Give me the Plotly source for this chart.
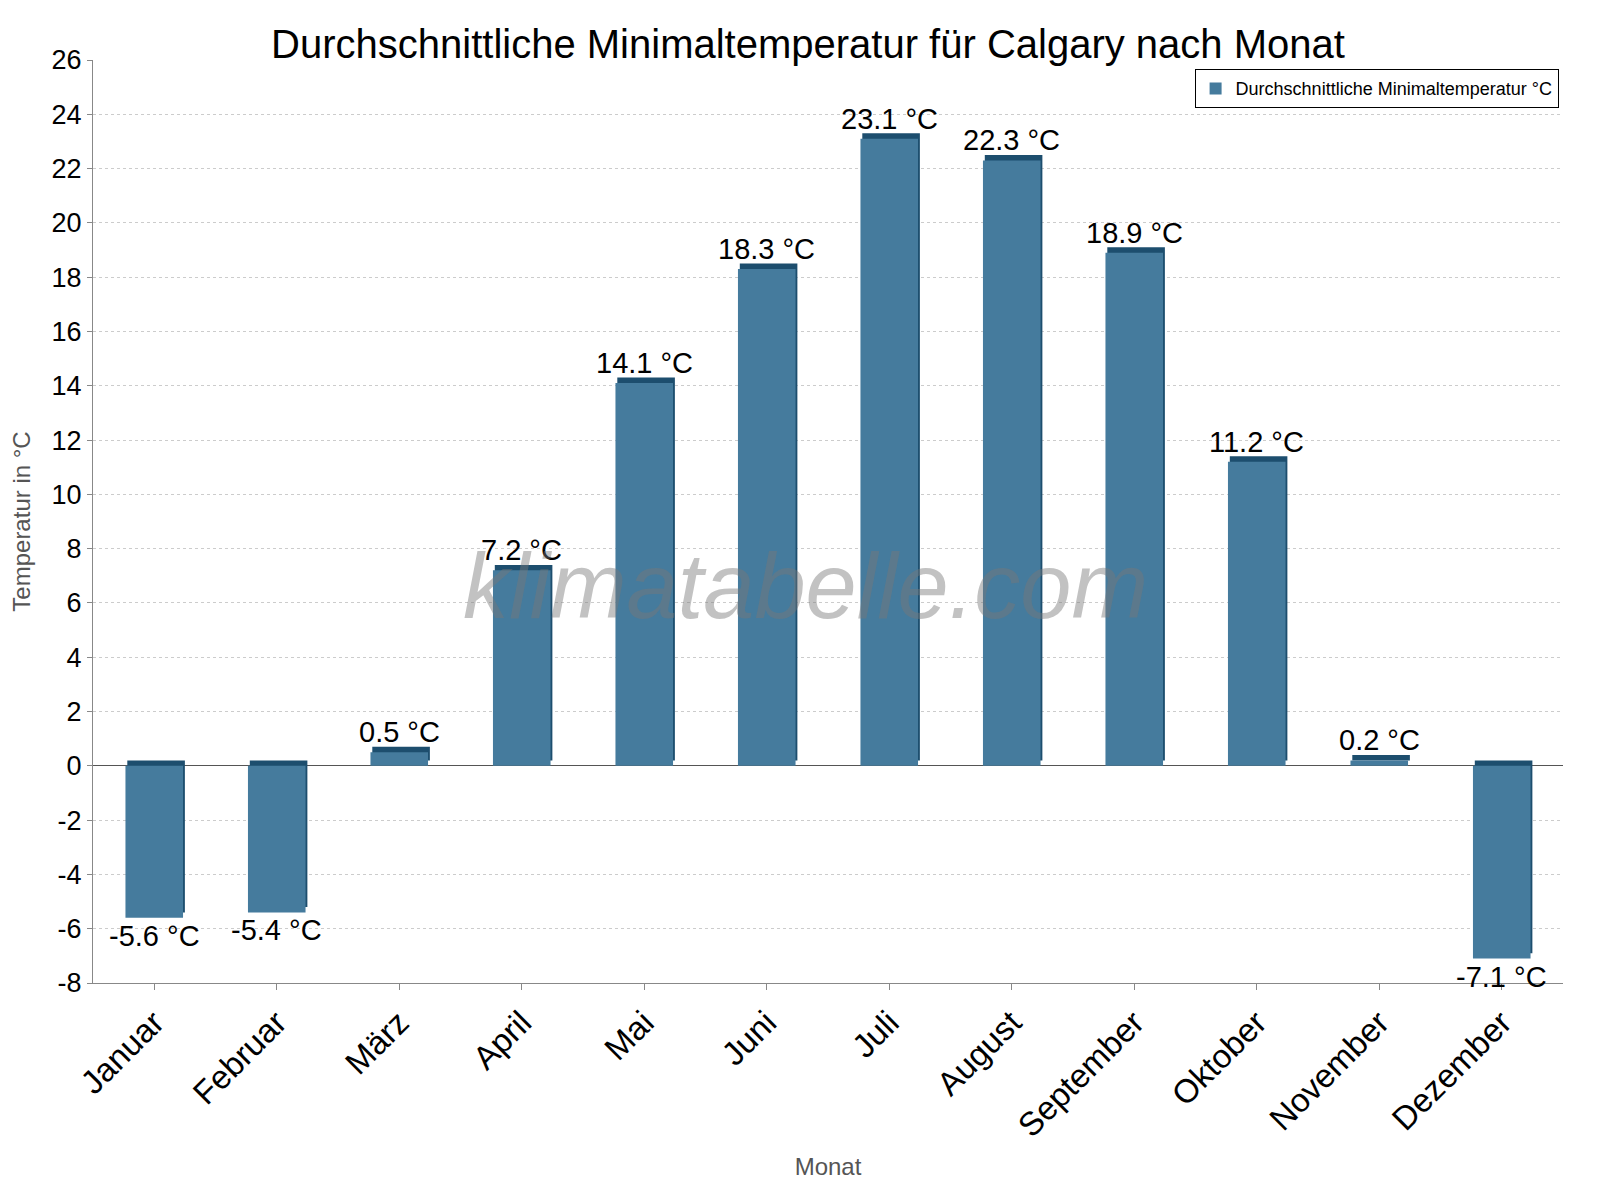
import plotly.graph_objects as go

months = ["Januar","Februar","März","April","Mai","Juni","Juli","August","September","Oktober","November","Dezember"]
values = [-5.6,-5.4,0.5,7.2,14.1,18.3,23.1,22.3,18.9,11.2,0.2,-7.1]
labels = [f"{v} °C" for v in values]
yticks = list(range(-8, 27, 2))
yticktext = [str(t) for t in yticks]

fig = go.Figure()
fig.add_trace(go.Bar(x=months, y=values, base=[0.2]*12, width=0.47, offset=-0.22,
                     marker=dict(color="#1d4e6e", line=dict(width=0)), showlegend=False, hoverinfo="skip"))
fig.add_trace(go.Bar(x=months, y=values, width=0.47, offset=-0.235,
                     name="Durchschnittliche Minimaltemperatur °C",
                     marker=dict(color="#457b9d", line=dict(width=0))))
anns = []
for m, v, t in zip(months, values, labels):
    anns.append(dict(x=m, y=v if v >= 0 else v, text=t, showarrow=False,
                     yanchor="bottom" if v >= 0 else "top", yshift=2 if v >= 0 else 0,
                     font=dict(size=29, color="black")))
anns.append(dict(text="<i>klimatabelle.com</i>", x=0.485, y=0.43, xref="paper", yref="paper",
                 showarrow=False, font=dict(size=92, color="rgba(120,120,120,0.45)")))
fig.update_layout(
    width=1600, height=1200, barmode="overlay",
    paper_bgcolor="white", plot_bgcolor="white",
    font=dict(family="Liberation Sans", color="black"),
    margin=dict(l=85, r=45, t=52, b=225),
    title=dict(text="Durchschnittliche Minimaltemperatur für Calgary nach Monat", x=0.5, xanchor="center",
               y=0.982, font=dict(size=40)),
    xaxis=dict(title=dict(text="Monat", font=dict(size=24, color="#555")), tickangle=-45,
               tickfont=dict(size=33), showline=True, linecolor="#888", ticks="outside",
               ticklen=6, tickcolor="#888", range=[-0.5, 11.5]),
    yaxis=dict(title=dict(text="Temperatur in °C", font=dict(size=24, color="#555")),
               range=[-8, 26], tickvals=yticks, ticktext=yticktext, tickfont=dict(size=27),
               gridcolor="#ccc", griddash="dot", zeroline=True, zerolinecolor="#555",
               zerolinewidth=1, showline=True, linecolor="#888", ticks="outside", tickcolor="#888"),
    legend=dict(x=0.997, y=0.99, xanchor="right", yanchor="top", bordercolor="black",
                borderwidth=1, font=dict(size=18), itemwidth=30),
    annotations=anns,
)
fig.write_html("out.html")
